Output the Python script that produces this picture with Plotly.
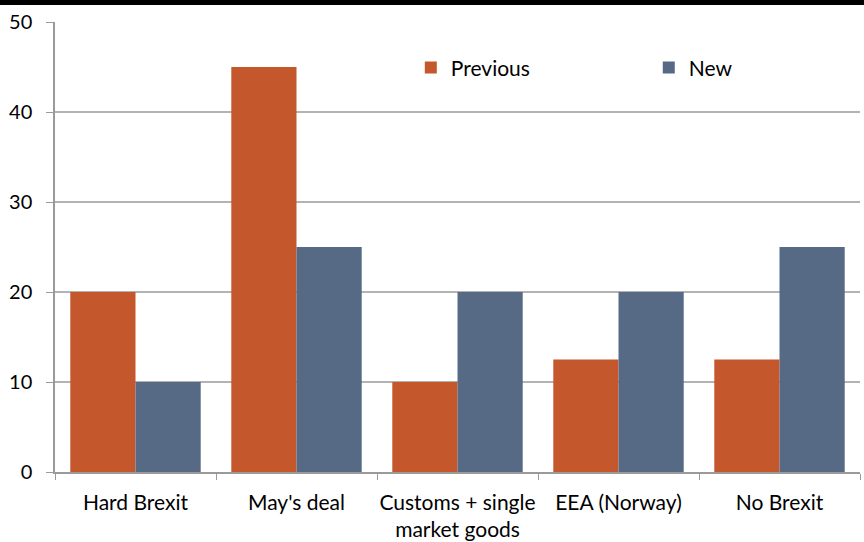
import plotly.graph_objects as go

categories = ["Hard Brexit", "May's deal", "Customs + single<br>market goods", "EEA (Norway)", "No Brexit"]
previous = [20, 45, 10, 12.5, 12.5]
new = [10, 25, 20, 20, 25]
y_ticks = [0, 10, 20, 30, 40, 50]

W, H = 864, 542
ml, mr, mt, mb = 55, 4, 22, 70
font = "Lato"

fig = go.Figure()
fig.add_bar(x=categories, y=previous, name="Previous", legend="legend",
            marker=dict(color="#C5572C", line=dict(width=0)))
fig.add_bar(x=categories, y=new, name="New", legend="legend2",
            marker=dict(color="#566A86", line=dict(width=0)))

legend_common = dict(orientation="h", xanchor="left", yanchor="middle", font=dict(size=21),
                     bgcolor="rgba(0,0,0,0)", itemwidth=30)
fig.update_layout(
    width=W, height=H,
    margin=dict(l=ml, r=mr, t=mt, b=mb),
    paper_bgcolor="white", plot_bgcolor="white",
    barmode="group", bargap=0.19, bargroupgap=0,
    font=dict(family=font, size=21, color="#000"),
    legend=dict(x=0.442, y=0.898, **legend_common),
    legend2=dict(x=0.7376, y=0.898, **legend_common),
    showlegend=True,
)
fig.update_yaxes(range=[0, 50], tickvals=y_ticks, showgrid=True, gridcolor="#B3B3B3", gridwidth=1.5,
                 showline=True, linecolor="#9A9A9A", linewidth=1.5, ticks="outside", ticklen=7,
                 tickcolor="#9A9A9A", tickfont=dict(size=20), zeroline=False, ticklabelstandoff=10,
                 automargin=False)
fig.update_xaxes(showline=True, linecolor="#9A9A9A", linewidth=1.5, ticks="outside", tickson="boundaries",
                 ticklen=6, tickcolor="#9A9A9A", tickfont=dict(size=21), showgrid=False, ticklabelstandoff=11,
                 tickangle=0, automargin=False)

# black band across the very top of the image
fig.add_shape(type="rect", xref="paper", yref="paper",
              x0=-ml / (W - ml - mr) - 0.01, x1=1 + mr / (W - ml - mr) + 0.01,
              y0=1 + (mt - 5) / (H - mt - mb), y1=1 + (mt + 2) / (H - mt - mb),
              fillcolor="black", line=dict(width=0), layer="above")

fig.write_html("out.html", config=dict(displayModeBar=False),
               post_script="document.body.style.margin='0';document.body.style.overflow='hidden';")
